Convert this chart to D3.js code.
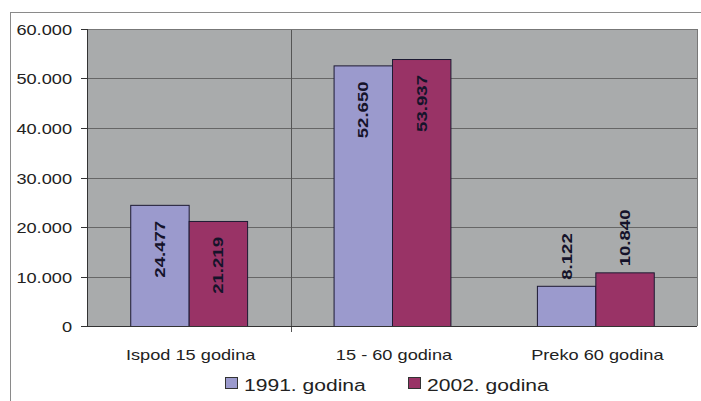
<!DOCTYPE html>
<html>
<head>
<meta charset="utf-8">
<script src="https://cdn.jsdelivr.net/npm/d3@7"></script>
<style>
  html, body { margin: 0; padding: 0; background: #fff; }
  svg { display: block; }
  text { font-family: "Liberation Sans", Arial, sans-serif; }
</style>
</head>
<body>
<svg id="chart" width="701" height="401"></svg>
<script>
// ---- data ----
const categories = ["Ispod 15 godina", "15 - 60 godina", "Preko 60 godina"];
const seriesNames = ["1991. godina", "2002. godina"];
const values1991 = [24477, 52650, 8122];
const values2002 = [21219, 53937, 10840];
const labels1991 = ["24.477", "52.650", "8.122"];
const labels2002 = ["21.219", "53.937", "10.840"];
const yTicks = [0, 10000, 20000, 30000, 40000, 50000, 60000];
const yTickLabels = ["0", "10.000", "20.000", "30.000", "40.000", "50.000", "60.000"];
const colors = ["#9b9acd", "#993366"];

// ---- layout ----
const svg = d3.select("#chart");
const plot = { left: 87, right: 697, top: 29, bottom: 326 };
const stretch = 1.3;

// outer frame
svg.append("rect").attr("x", 10.5).attr("y", 12.5).attr("width", 720).attr("height", 420)
  .attr("fill", "#fff").attr("stroke", "#8a8a8a").attr("stroke-width", 1);

const x = d3.scaleBand().domain(categories).range([plot.left, plot.right]).padding(0);
const inner = d3.scaleBand().domain(seriesNames).range([0, x.bandwidth()]).paddingInner(0).paddingOuter(0.74);
const y = d3.scaleLinear().domain([0, 60000]).range([plot.bottom, plot.top]);

// plot background
svg.append("rect").attr("x", plot.left).attr("y", plot.top)
  .attr("width", plot.right - plot.left).attr("height", plot.bottom - plot.top)
  .attr("fill", "#a9abac");

// horizontal gridlines
svg.append("g").selectAll("line").data(yTicks.filter(d => d > 0)).join("line")
  .attr("x1", plot.left).attr("x2", plot.right)
  .attr("y1", d => Math.round(y(d)) + 0.5).attr("y2", d => Math.round(y(d)) + 0.5)
  .attr("stroke", "#666").attr("stroke-width", 1);

// vertical gridline between first and second category
const vx = Math.round(x(categories[1])) + 1.5;
svg.append("line").attr("x1", vx).attr("x2", vx).attr("y1", plot.top).attr("y2", plot.bottom + 6)
  .attr("stroke", "#555").attr("stroke-width", 1);

// plot border
svg.append("line").attr("x1", plot.right + 0.5).attr("x2", plot.right + 0.5)
  .attr("y1", plot.top).attr("y2", plot.bottom).attr("stroke", "#777");
svg.append("line").attr("x1", plot.left).attr("x2", plot.right)
  .attr("y1", plot.top + 0.5).attr("y2", plot.top + 0.5).attr("stroke", "#777");

// bars
const seriesData = [values1991, values2002];
const seriesLabels = [labels1991, labels2002];
const bars = [];
categories.forEach((c, i) => {
  seriesNames.forEach((s, j) => {
    bars.push({ cat: c, ser: s, j, v: seriesData[j][i], label: seriesLabels[j][i] });
  });
});
svg.append("g").selectAll("rect").data(bars).join("rect")
  .attr("x", d => x(d.cat) + inner(d.ser) + 0.5)
  .attr("y", d => y(d.v) + 0.5)
  .attr("width", inner.bandwidth())
  .attr("height", d => y(0) - y(d.v))
  .attr("fill", d => colors[d.j])
  .attr("stroke", "#1d1a33").attr("stroke-width", 1);

// axes lines
svg.append("line").attr("x1", plot.left).attr("x2", plot.right)
  .attr("y1", plot.bottom + 0.5).attr("y2", plot.bottom + 0.5).attr("stroke", "#333");
svg.append("line").attr("x1", plot.left + 0.5).attr("x2", plot.left + 0.5)
  .attr("y1", plot.top).attr("y2", plot.bottom).attr("stroke", "#333");

// y ticks and labels
const yg = svg.append("g");
yTicks.forEach((t, i) => {
  const yy = Math.round(y(t)) + 0.5;
  yg.append("line").attr("x1", plot.left - 6).attr("x2", plot.left).attr("y1", yy).attr("y2", yy).attr("stroke", "#333");
  yg.append("text")
    .attr("transform", `translate(72,${yy}) scale(${stretch},1)`)
    .attr("text-anchor", "end").attr("dy", "0.36em")
    .attr("font-size", 14).attr("fill", "#222")
    .text(yTickLabels[i]);
});

// x labels
svg.append("g").selectAll("text").data(categories).join("text")
  .attr("transform", d => `translate(${x(d) + x.bandwidth() / 2 + 2},360) scale(${stretch},1)`)
  .attr("text-anchor", "middle").attr("font-size", 14).attr("fill", "#222")
  .text(d => d);

// data labels (rotated)
svg.append("g").selectAll("text").data(bars).join("text")
  .attr("transform", d => {
    const cx = x(d.cat) + inner(d.ser) + inner.bandwidth() / 2;
    const inside = d.v > 15000;
    const yy = inside ? y(d.v) + 16 : y(d.v) - 6;
    return `translate(${cx},${yy}) rotate(-90) scale(1.2,1)`;
  })
  .attr("text-anchor", d => d.v > 15000 ? "end" : "start")
  .attr("dy", "0.36em")
  .attr("font-size", 15.5).attr("font-weight", "bold").attr("fill", "#15132a")
  .text(d => d.label);

// legend
const legendX = [225, 408];
seriesNames.forEach((s, j) => {
  svg.append("rect").attr("x", legendX[j] + 0.5).attr("y", 377.5).attr("width", 12).attr("height", 11)
    .attr("fill", colors[j]).attr("stroke", "#333");
  svg.append("text")
    .attr("transform", `translate(${legendX[j] + 19},391) scale(1.24,1)`)
    .attr("font-size", 17).attr("fill", "#222")
    .text(s);
});
</script>
</body>
</html>
